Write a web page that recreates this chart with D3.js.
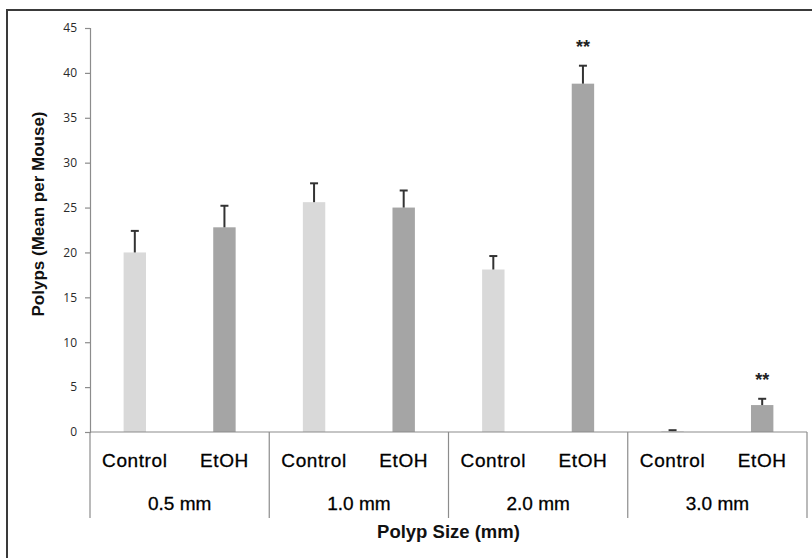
<!DOCTYPE html>
<html>
<head>
<meta charset="utf-8">
<script src="https://cdn.jsdelivr.net/npm/d3@7"></script>
<style>
  html, body { margin: 0; padding: 0; background: #fff; }
  svg { display: block; }
</style>
</head>
<body>
<script>
// ---- data ----
const groups = ["0.5 mm", "1.0 mm", "2.0 mm", "3.0 mm"];
const treatments = ["Control", "EtOH"];
const controlMeans = [20.0, 25.6, 18.1, 0.1];
const controlErr = [2.4, 2.1, 1.5, 0.1];
const etohMeans = [22.8, 25.0, 38.8, 3.0];
const etohErr = [2.4, 1.9, 2.0, 0.7];
const etohSignif = ["", "", "**", "**"];
const yTicks = [0, 5, 10, 15, 20, 25, 30, 35, 40, 45];
const yTitle = "Polyps (Mean per Mouse)";
const xTitle = "Polyp Size (mm)";

const colors = { Control: "#d9d9d9", EtOH: "#a5a5a5" };

const W = 812, H = 558;
const svg = d3.select("body").append("svg").attr("width", W).attr("height", H);

// outer border (extends past canvas at right/bottom)
svg.append("rect").attr("x", 7).attr("y", 10).attr("width", 830).attr("height", 580)
  .attr("fill", "none").attr("stroke", "#3a3a3a").attr("stroke-width", 2);

const x0 = 90, x1 = 807, yTop = 28, yBot = 432;
const y = d3.scaleLinear().domain([0, 45]).range([yBot, yTop]);
const xg = d3.scaleBand().domain(groups).range([x0, x1]).padding(0);
const xt = d3.scaleBand().domain(treatments).range([0, xg.bandwidth()]).padding(0);
const barW = xt.bandwidth() * 0.25;

const rows = [];
groups.forEach((g, i) => {
  rows.push({ g, t: "Control", v: controlMeans[i], e: controlErr[i], s: "" });
  rows.push({ g, t: "EtOH", v: etohMeans[i], e: etohErr[i], s: etohSignif[i] });
});
const cx = d => xg(d.g) + xt(d.t) + xt.bandwidth() / 2;

// y axis
const yAxis = d3.axisLeft(y).tickValues(yTicks).tickSize(5).tickPadding(8);
const ya = svg.append("g").attr("transform", `translate(${x0},0)`).call(yAxis);
ya.select(".domain").attr("stroke", "#8c8c8c").attr("stroke-width", 1.2);
ya.selectAll(".tick line").attr("stroke", "#8c8c8c").attr("stroke-width", 1.2);
ya.selectAll(".tick text").attr("font-family", "'Open Sans', sans-serif")
  .attr("font-size", 12).attr("fill", "#2a2a2a");

// bars
svg.append("g").selectAll("rect").data(rows).join("rect")
  .attr("x", d => cx(d) - barW / 2)
  .attr("y", d => y(d.v))
  .attr("width", barW)
  .attr("height", d => y(0) - y(d.v))
  .attr("fill", d => colors[d.t]);

// error bars
const eg = svg.append("g").attr("stroke", "#333").attr("stroke-width", 2);
eg.selectAll("line.v").data(rows).join("line").attr("class", "v")
  .attr("x1", cx).attr("x2", cx)
  .attr("y1", d => y(d.v)).attr("y2", d => y(d.v + d.e));
eg.selectAll("line.c").data(rows).join("line").attr("class", "c")
  .attr("x1", d => cx(d) - 4).attr("x2", d => cx(d) + 4)
  .attr("y1", d => y(d.v + d.e)).attr("y2", d => y(d.v + d.e));

// significance
svg.append("g").selectAll("text").data(rows.filter(d => d.s)).join("text")
  .attr("x", cx).attr("y", d => y(d.v + d.e) - 13)
  .attr("text-anchor", "middle")
  .attr("font-family", "'Liberation Sans', Arial, sans-serif")
  .attr("font-weight", "bold").attr("font-size", 18).attr("fill", "#222")
  .text(d => d.s);

// x axis baseline and group dividers
const ax = svg.append("g").attr("stroke", "#8c8c8c").attr("stroke-width", 1.2);
ax.append("line").attr("x1", x0).attr("x2", x1).attr("y1", yBot).attr("y2", yBot);
const divs = groups.map(g => xg(g)).concat([x1]);
ax.selectAll("line.d").data(divs).join("line").attr("class", "d")
  .attr("x1", d => d).attr("x2", d => d).attr("y1", yBot).attr("y2", 518);

// category labels
svg.append("g").selectAll("text").data(rows).join("text")
  .attr("x", cx).attr("y", 467)
  .attr("text-anchor", "middle")
  .attr("font-family", "'Liberation Sans', Arial, sans-serif")
  .attr("font-size", 19).attr("letter-spacing", 0.6).attr("fill", "#000")
  .attr("stroke", "#000").attr("stroke-width", 0.3)
  .text(d => d.t);

// group labels
svg.append("g").selectAll("text").data(groups).join("text")
  .attr("x", g => xg(g) + xg.bandwidth() / 2).attr("y", 510)
  .attr("text-anchor", "middle")
  .attr("font-family", "'Liberation Sans', Arial, sans-serif")
  .attr("font-size", 19).attr("fill", "#000")
  .attr("stroke", "#000").attr("stroke-width", 0.3)
  .text(g => g);

// axis titles
svg.append("text").attr("x", (x0 + x1) / 2).attr("y", 538)
  .attr("text-anchor", "middle")
  .attr("font-family", "'Liberation Sans', Arial, sans-serif")
  .attr("font-weight", "bold").attr("font-size", 18.5).attr("fill", "#111")
  .text(xTitle);

svg.append("text").attr("transform", "translate(44,214) rotate(-90)")
  .attr("text-anchor", "middle")
  .attr("font-family", "'Liberation Sans', Arial, sans-serif")
  .attr("font-weight", "bold").attr("font-size", 17).attr("fill", "#111")
  .text(yTitle);
</script>
</body>
</html>
